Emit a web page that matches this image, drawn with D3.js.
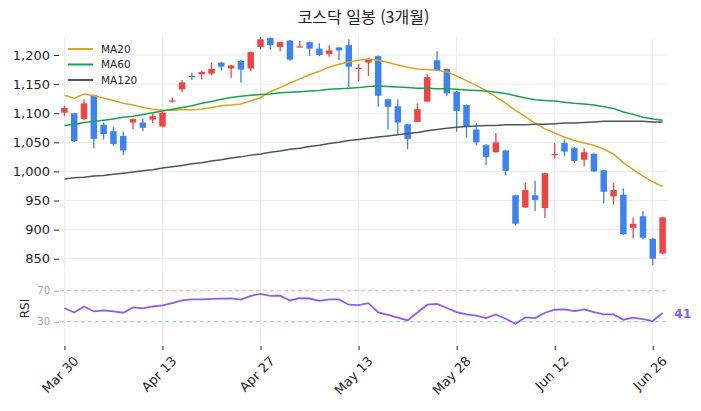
<!DOCTYPE html>
<html lang="ko">
<head>
    <meta charset="UTF-8">
    <title>코스닥 일봉 (3개월)</title>
    <script src="https://d3js.org/d3.v7.min.js"></script>
    <style>
        body {
            margin: 0;
            background: #fff;
            font-family: "DejaVu Sans", sans-serif;
        }
        .title {
            font-family: "Noto Sans CJK KR", "Noto Sans", sans-serif;
            font-size: 16px;
            fill: #222;
            text-anchor: middle;
        }
        .grid line { stroke: #ebebeb; stroke-width: 1; }
        .axis text { font-family: "DejaVu Sans", sans-serif; }
    </style>
</head>
<body>
    <div id="chart"></div>
    <script>
        // trading days (KRX, 2026)
        const dates = [
            "2026-03-30","2026-03-31","2026-04-01","2026-04-02","2026-04-03",
            "2026-04-06","2026-04-07","2026-04-08","2026-04-09","2026-04-10",
            "2026-04-13","2026-04-14","2026-04-15","2026-04-16","2026-04-17",
            "2026-04-20","2026-04-21","2026-04-22","2026-04-23","2026-04-24",
            "2026-04-27","2026-04-28","2026-04-29","2026-04-30","2026-05-04",
            "2026-05-06","2026-05-07","2026-05-08","2026-05-11","2026-05-12",
            "2026-05-13","2026-05-14","2026-05-15","2026-05-18","2026-05-19",
            "2026-05-20","2026-05-21","2026-05-22","2026-05-26","2026-05-27",
            "2026-05-28","2026-05-29","2026-06-01","2026-06-02","2026-06-04",
            "2026-06-05","2026-06-08","2026-06-09","2026-06-10","2026-06-11",
            "2026-06-12","2026-06-15","2026-06-16","2026-06-17","2026-06-18",
            "2026-06-19","2026-06-22","2026-06-23","2026-06-24","2026-06-25",
            "2026-06-26","2026-06-29"
        ];
        const tickLabels = ["Mar 30", "Apr 13", "Apr 27", "May 13", "May 28", "Jun 12", "Jun 26"];
        const priceTicks = [850, 900, 950, 1000, 1050, 1100, 1150, 1200];
        const rsiTicks = [30, 70];

        const open  = [1101,1100,1090,1131,1080,1069,1061,1084,1084,1089,
                       1077,1120,1141,1164,1167,1168,1187,1177,1190,1177,
                       1214,1229,1214,1225,1213,1222,1211,1202,1213,1217,
                       1176,1187,1198,1124,1112,1081,1085,1120,1191,1176,
                       1137,1114,1072,1045,1033,1036,959,938,959,937,
                       1028,1049,1040,1020,1030,1002,957,960,903,923,
                       884,859];
        const high  = [1113,1100,1124,1132,1084,1076,1068,1091,1091,1099,
                       1102,1127,1157,1170,1173,1187,1188,1183,1192,1206,
                       1231,1230,1223,1226,1224,1223,1220,1217,1214,1227,
                       1185,1194,1199,1125,1124,1082,1117,1167,1207,1177,
                       1138,1115,1083,1047,1066,1037,960,981,984,998,
                       1049,1055,1042,1040,1032,1003,980,971,921,932,
                       886,922];
        const low   = [1095,1050,1088,1040,1055,1044,1028,1072,1069,1083,
                       1076,1118,1136,1157,1158,1165,1174,1161,1153,1173,
                       1210,1209,1206,1190,1213,1198,1198,1197,1191,1145,
                       1155,1164,1111,1072,1064,1038,1085,1119,1172,1129,
                       1068,1059,1045,1011,1032,994,907,937,932,920,
                       1022,1026,1014,1009,999,945,943,891,885,883,
                       839,858];
        const close = [1109,1052,1117,1056,1064,1047,1036,1090,1075,1095,
                       1101,1122,1153,1163,1171,1176,1180,1182,1175,1205,
                       1227,1217,1222,1192,1215,1211,1200,1208,1208,1180,
                       1178,1193,1130,1111,1084,1056,1107,1162,1174,1134,
                       1104,1077,1050,1025,1050,1001,910,968,951,997,
                       1030,1034,1018,1033,1000,965,968,892,910,886,
                       850,921];

        const ma20  = [1131,1126,1133,1130,1126,1122,1117,1114,1110,1107,
                       1105,1105,1106,1106,1107,1110,1113,1114,1116,1121,
                       1127,1137,1144,1152,1159,1166,1172,1179,1184,1188,
                       1191,1193,1191,1187,1183,1179,1176,1175,1174,1171,
                       1164,1156,1148,1139,1128,1117,1105,1094,1083,1073,
                       1066,1059,1053,1049,1045,1038,1030,1015,1003,992,
                       982,974];
        const ma60  = [1079,1081,1084,1086,1088,1090,1093,1095,1098,1101,
                       1104,1107,1110,1113,1117,1120,1124,1127,1129,1131,
                       1132,1133,1135,1136,1137,1138,1139,1141,1142,1143,
                       1144,1146,1147,1146,1145,1144,1143,1143,1142,1142,
                       1141,1140,1139,1138,1136,1134,1130,1126,1123,1122,
                       1121,1119,1117,1116,1114,1111,1108,1102,1098,1093,
                       1090,1088];
        const ma120 = [987,989,990,992,993,995,997,999,1001,1003,
                       1006,1008,1010,1013,1015,1018,1020,1023,1025,1028,
                       1030,1033,1035,1038,1040,1043,1045,1048,1050,1053,
                       1055,1057,1059,1061,1063,1065,1067,1070,1072,1074,
                       1076,1077,1078,1079,1079,1080,1080,1080,1081,1081,
                       1082,1083,1083,1084,1085,1086,1086,1086,1086,1086,
                       1085,1085];
        const rsi   = [47.7,42,49.7,43.3,44.6,43.3,41.6,48.5,47.2,49.7,
                       51,54,57.5,58.8,58.9,59.5,59.8,60.2,58.5,63.5,
                       66,63.5,63.7,57.5,60.5,60,57,58.8,58.8,52,
                       51.5,54,42,39,35.3,31.7,42,52,53,47.7,
                       42.5,39.4,38,34.7,39.4,33.9,27.4,35.6,34.7,41.6,
                       45.5,45.9,43.8,45.9,42.5,39.4,39.4,32.6,35.2,33.5,
                       30.9,41.2];

        const maSeries = [
            { name: "MA20", values: ma20, color: "#daa520" },
            { name: "MA60", values: ma60, color: "#16a34a" },
            { name: "MA120", values: ma120, color: "#4b5563" }
        ];
        const upColor = "#ef4444", downColor = "#3b82f6";

        // layout
        const width = 701, height = 411;
        const plotL = 60, plotR = 667;
        const mainTop = 37, mainBottom = 268;
        const rsiTop = 270, rsiBottom = 345;

        const svg = d3.select("#chart").append("svg")
            .attr("width", width)
            .attr("height", height);

        const idx = d3.range(dates.length);
        const fmt = d3.timeFormat("%b %-d");
        const parse = d3.timeParse("%Y-%m-%d");
        const tickIdx = idx.filter(i => tickLabels.includes(fmt(parse(dates[i]))));

        const x = d3.scalePoint().domain(idx).range([plotL, plotR]).padding(0.45);
        const y = d3.scaleLinear().domain([834, 1231]).range([mainBottom, mainTop]);
        const yr = d3.scaleLinear().domain([0, 100]).range([rsiBottom, rsiBottom - 77.5]);

        // title
        svg.append("text")
            .attr("class", "title")
            .attr("x", (plotL + plotR) / 2)
            .attr("y", 23)
            .text("코스닥 일봉 (3개월)");

        // gridlines
        const grid = svg.append("g").attr("class", "grid");
        grid.selectAll(".hg").data(priceTicks).enter().append("line")
            .attr("x1", plotL).attr("x2", plotR)
            .attr("y1", d => y(d)).attr("y2", d => y(d));
        grid.selectAll(".vg").data(tickIdx).enter().append("line")
            .attr("x1", d => x(d)).attr("x2", d => x(d))
            .attr("y1", mainTop).attr("y2", mainBottom);
        grid.selectAll(".vr").data(tickIdx).enter().append("line")
            .attr("x1", d => x(d)).attr("x2", d => x(d))
            .attr("y1", rsiTop).attr("y2", rsiBottom);

        // y axis (price)
        const yAxis = svg.append("g")
            .attr("class", "axis")
            .attr("transform", `translate(${plotL - 1},0)`)
            .call(d3.axisLeft(y).tickValues(priceTicks).tickFormat(d3.format(",")).tickSize(5).tickPadding(4));
        yAxis.select(".domain").remove();
        yAxis.selectAll("line").attr("stroke", "#262626");
        yAxis.selectAll("text").style("font-size", "13px").attr("fill", "#262626");

        // candles
        const bw = x.step() * 0.66;
        const candles = svg.append("g").selectAll("g").data(idx).enter().append("g");
        candles.append("line")
            .attr("x1", i => x(i)).attr("x2", i => x(i))
            .attr("y1", i => y(high[i])).attr("y2", i => y(low[i]))
            .attr("stroke", i => close[i] >= open[i] ? upColor : downColor)
            .attr("stroke-width", 1.3);
        candles.append("rect")
            .attr("x", i => x(i) - bw / 2)
            .attr("width", bw)
            .attr("y", i => y(Math.max(open[i], close[i])))
            .attr("height", i => Math.max(1.2, Math.abs(y(open[i]) - y(close[i]))))
            .attr("fill", i => close[i] >= open[i] ? upColor : downColor);

        // moving averages
        const maLine = vals => d3.line().x(i => x(i)).y(i => y(vals[i]))(idx);
        svg.append("g").selectAll("path").data(maSeries).enter().append("path")
            .attr("d", d => maLine(d.values))
            .attr("fill", "none")
            .attr("stroke", d => d.color)
            .attr("stroke-width", 1.5);

        // legend
        const legend = svg.append("g").selectAll("g").data(maSeries).enter().append("g")
            .attr("transform", (d, i) => `translate(68,${49 + i * 15.5})`);
        legend.append("line")
            .attr("x1", 0).attr("x2", 25)
            .attr("stroke", d => d.color)
            .attr("stroke-width", 2);
        legend.append("text")
            .attr("x", 33).attr("y", 3.8)
            .style("font-size", "10.5px")
            .attr("fill", "#262626")
            .text(d => d.name);

        // RSI panel
        const refLines = [{ v: 70, c: "#f4a3ab" }, { v: 30, c: "#93c5fd" }];
        svg.append("g").selectAll("line").data(refLines).enter().append("line")
            .attr("x1", plotL).attr("x2", plotR)
            .attr("y1", d => yr(d.v)).attr("y2", d => yr(d.v))
            .attr("stroke", d => d.c)
            .attr("stroke-width", 1)
            .attr("stroke-dasharray", "4,3");

        const rAxis = svg.append("g")
            .attr("class", "axis")
            .attr("transform", `translate(${plotL - 1},0)`)
            .call(d3.axisLeft(yr).tickValues(rsiTicks).tickSize(5).tickPadding(4));
        rAxis.select(".domain").remove();
        rAxis.selectAll("line").attr("stroke", "#9aa3b5");
        rAxis.selectAll("text").style("font-size", "10px").attr("fill", "#9aa3b5");

        svg.append("text")
            .attr("transform", `translate(29,${(rsiTop + rsiBottom) / 2 + 1}) rotate(-90)`)
            .style("text-anchor", "middle")
            .style("font-size", "12px")
            .attr("fill", "#262626")
            .text("RSI");

        svg.append("path")
            .attr("d", d3.line().x(i => x(i)).y(i => yr(rsi[i]))(idx))
            .attr("fill", "none")
            .attr("stroke", "#8b5cf6")
            .attr("stroke-width", 1.8);

        const last = idx[idx.length - 1];
        svg.append("text")
            .attr("x", plotR + 7)
            .attr("y", yr(rsi[last]) + 5)
            .style("font-size", "12.5px")
            .style("font-weight", "bold")
            .attr("fill", "#8b5cf6")
            .text(d3.format(".0f")(rsi[last]));

        // x axis
        const xAxis = svg.append("g")
            .attr("class", "axis")
            .attr("transform", `translate(0,${rsiBottom + 1})`)
            .call(d3.axisBottom(x).tickValues(tickIdx).tickSize(4).tickFormat(""));
        xAxis.select(".domain").remove();
        xAxis.selectAll("line").attr("stroke", "#262626");

        svg.append("g").selectAll("text").data(tickIdx).enter().append("text")
            .attr("transform", i => `translate(${x(i) + 15},${rsiBottom + 17}) rotate(-45)`)
            .style("text-anchor", "end")
            .style("font-size", "13px")
            .attr("fill", "#262626")
            .text(i => fmt(parse(dates[i])));
    </script>
</body>
</html>
